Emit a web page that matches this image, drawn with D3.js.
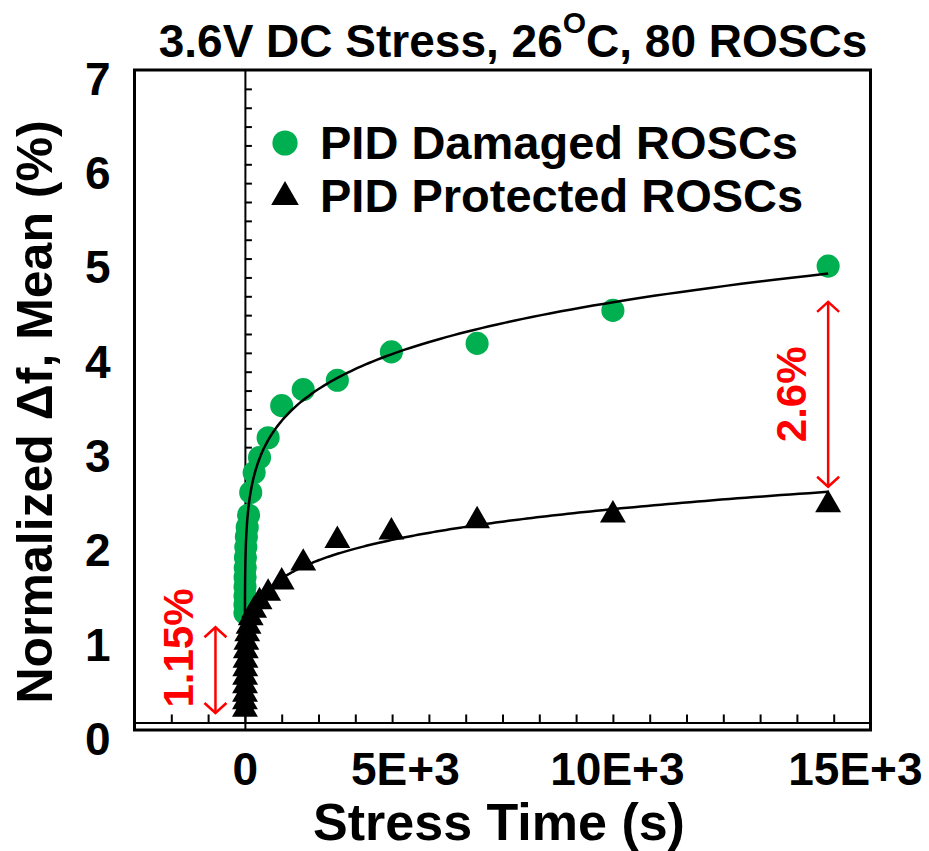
<!DOCTYPE html>
<html>
<head>
<meta charset="utf-8">
<script src="https://cdn.jsdelivr.net/npm/d3@7/dist/d3.min.js"></script>
<style>
body { margin: 0; background: #fff; }
svg text { font-family: "Liberation Sans", Arial, sans-serif; font-weight: bold; }
</style>
</head>
<body>
<div id="chart"></div>
<script>
// stress times (s), log spaced, and mean normalized frequency shift (%)
var stressTime = [1, 1.6, 2.5, 4, 6.3, 10, 16, 25, 40, 63, 100, 158, 251, 398, 631,
  1000, 1585, 2512, 3981, 6310, 10000, 15849];
var damagedShift = [1.24, 1.33, 1.42, 1.52, 1.62, 1.72, 1.83, 1.94, 2.05, 2.15, 2.28,
  2.52, 2.73, 2.89, 3.10, 3.44, 3.61, 3.71, 4.01, 4.10, 4.45, 4.92];
var protectedShift = [0.22, 0.30, 0.38, 0.47, 0.56, 0.65, 0.74, 0.84, 0.93, 1.02, 1.10,
  1.19, 1.27, 1.36, 1.45, 1.57, 1.77, 2.01, 2.10, 2.22, 2.28, 2.39];

var seriesNames = ["PID Damaged ROSCs", "PID Protected ROSCs"];

var xLabelValues = [0, 5000, 10000, 15000];
var xLabelText = ["0", "5E+3", "10E+3", "15E+3"];
var yLabelValues = [0, 1, 2, 3, 4, 5, 6, 7];

// red gap markers (time, low, high, label centre)
var gapNotes = [
  {text: "1.15%", t: -800, lo: 0.18, hi: 1.09, mid: 0.87},
  {text: "2.6%", t: 15849, lo: 2.58, hi: 4.54, mid: 3.56}
];

var green = "#00B050";

var svg = d3.select("#chart").append("svg")
  .attr("width", 929)
  .attr("height", 851);

var x = d3.scaleLinear().domain([-3000, 17000]).range([134.5, 870.5]);
var y = d3.scaleLinear().domain([0, 7]).range([730, 70]);

// title
var title = svg.append("text")
  .attr("x", 513).attr("y", 57)
  .attr("text-anchor", "middle")
  .style("font-size", "46px");
title.append("tspan").text("3.6V DC Stress, 26");
title.append("tspan").text("O").style("font-size", "30px").attr("dy", -24);
title.append("tspan").text("C, 80 ROSCs").attr("dy", 24);

// frame
svg.append("rect")
  .attr("x", x(-3000)).attr("y", y(7))
  .attr("width", x(17000) - x(-3000))
  .attr("height", y(0) - y(7))
  .attr("fill", "none")
  .attr("stroke", "#000")
  .attr("stroke-width", 3);

// x axis line crossing just above zero, ticks up
var xAxis = svg.append("g")
  .attr("transform", "translate(0," + y(0.08) + ")")
  .call(d3.axisTop(x).tickValues(d3.range(-2000, 17000, 1000)).tickSize(8).tickSizeOuter(0).tickFormat(""));
xAxis.selectAll("path, line").attr("stroke", "#000").attr("stroke-width", 2);

// y axis through t = 0, ticks to the right
var yAxis = svg.append("g")
  .attr("transform", "translate(" + x(0) + ",0)")
  .call(d3.axisRight(y).tickValues(d3.range(1, 35).map(function(i) { return i * 0.2; })).tickSize(7).tickSizeOuter(0).tickFormat(""));
yAxis.selectAll("path, line").attr("stroke", "#000").attr("stroke-width", 2);

// tick labels
var xShift = [0, -24, 4, 58];
var xLab = svg.append("g")
  .attr("transform", "translate(0," + y(0) + ")")
  .call(d3.axisBottom(x).tickValues(xLabelValues).tickSize(0).tickPadding(22)
    .tickFormat(function(d, i) { return xLabelText[i]; }));
xLab.select(".domain").remove();
xLab.selectAll("text")
  .style("font-size", "46px").attr("fill", "#000")
  .attr("dx", function(d, i) { return xShift[i]; });

var yLab = svg.append("g")
  .attr("transform", "translate(" + x(-3000) + ",0)")
  .call(d3.axisLeft(y).tickValues(yLabelValues).tickSize(0).tickPadding(24).tickFormat(d3.format("d")));
yLab.select(".domain").remove();
yLab.selectAll("text")
  .style("font-size", "46px").attr("fill", "#000")
  .attr("dy", "0.53em");

// axis titles
svg.append("text")
  .attr("x", 499).attr("y", 840)
  .attr("text-anchor", "middle")
  .style("font-size", "52px")
  .text("Stress Time (s)");

svg.append("text")
  .attr("transform", "translate(52,412) rotate(-90)")
  .attr("text-anchor", "middle")
  .style("font-size", "50px")
  .text("Normalized \u0394f, Mean (%)");

// markers
var circle = d3.symbol().type(d3.symbolCircle).size(420);
var tri = d3.symbol().type(d3.symbolTriangle).size(290);

svg.append("g").selectAll("path")
  .data(stressTime)
  .enter().append("path")
  .attr("d", circle)
  .attr("fill", green)
  .attr("transform", function(d, i) { return "translate(" + x(d) + "," + y(damagedShift[i]) + ")"; });

svg.append("g").selectAll("path")
  .data(stressTime)
  .enter().append("path")
  .attr("d", tri)
  .attr("fill", "#000")
  .attr("transform", function(d, i) { return "translate(" + x(d) + "," + y(protectedShift[i]) + ")"; });

// power law trend lines, fitted in log-log space like the spreadsheet does
function powerFit(ts, vs) {
  var lx = ts.map(Math.log), ly = vs.map(Math.log);
  var mx = d3.mean(lx), my = d3.mean(ly);
  var b = d3.sum(lx, function(d, i) { return (d - mx) * (ly[i] - my); }) /
          d3.sum(lx, function(d) { return (d - mx) * (d - mx); });
  var a = Math.exp(my - b * mx);
  return function(t) { return a * Math.pow(t, b); };
}

function trend(ts, vs) {
  var f = powerFit(ts, vs);
  var t0 = d3.min(ts), t1 = d3.max(ts);
  var pts = d3.range(0, 301).map(function(i) {
    var t = t0 * Math.pow(t1 / t0, i / 300);
    return [t, f(t)];
  });
  return d3.line().x(function(d) { return x(d[0]); }).y(function(d) { return y(d[1]); })(pts);
}

var late = stressTime.map(function(t, i) { return i; }).filter(function(i) { return stressTime[i] >= 100; });

svg.append("path")
  .attr("d", trend(stressTime, damagedShift))
  .attr("fill", "none").attr("stroke", "#000").attr("stroke-width", 2.5);

svg.append("path")
  .attr("d", trend(late.map(function(i) { return stressTime[i]; }), late.map(function(i) { return protectedShift[i]; })))
  .attr("fill", "none").attr("stroke", "#000").attr("stroke-width", 2.5);

// red gap arrows
var notes = svg.append("g").selectAll("g").data(gapNotes).enter().append("g");
notes.append("line")
  .attr("x1", function(d) { return x(d.t); }).attr("x2", function(d) { return x(d.t); })
  .attr("y1", function(d) { return y(d.hi); }).attr("y2", function(d) { return y(d.lo); })
  .attr("stroke", "red").attr("stroke-width", 2.5);
notes.append("path")
  .attr("d", function(d) {
    var cx = x(d.t), top = y(d.hi), bot = y(d.lo);
    return "M" + (cx - 11) + "," + (top + 10) + "L" + cx + "," + top + "L" + (cx + 11) + "," + (top + 10) +
      "M" + (cx - 11) + "," + (bot - 10) + "L" + cx + "," + bot + "L" + (cx + 11) + "," + (bot - 10);
  })
  .attr("fill", "none").attr("stroke", "red").attr("stroke-width", 2.5);
notes.append("text")
  .attr("transform", function(d) { return "translate(" + (x(d.t) - 22) + "," + y(d.mid) + ") rotate(-90)"; })
  .attr("text-anchor", "middle")
  .attr("fill", "red")
  .style("font-size", "42px")
  .text(function(d) { return d.text; });

// legend
var legend = svg.append("g");
legend.append("path").attr("d", d3.symbol().type(d3.symbolCircle).size(500)).attr("fill", green)
  .attr("transform", "translate(285,143)");
legend.append("path").attr("d", d3.symbol().type(d3.symbolTriangle).size(330)).attr("fill", "#000")
  .attr("transform", "translate(285,197)");
legend.selectAll("text").data(seriesNames).enter().append("text")
  .attr("x", 320).attr("y", function(d, i) { return 159 + i * 53; })
  .style("font-size", "47px")
  .text(function(d) { return d; });
</script>
</body>
</html>
